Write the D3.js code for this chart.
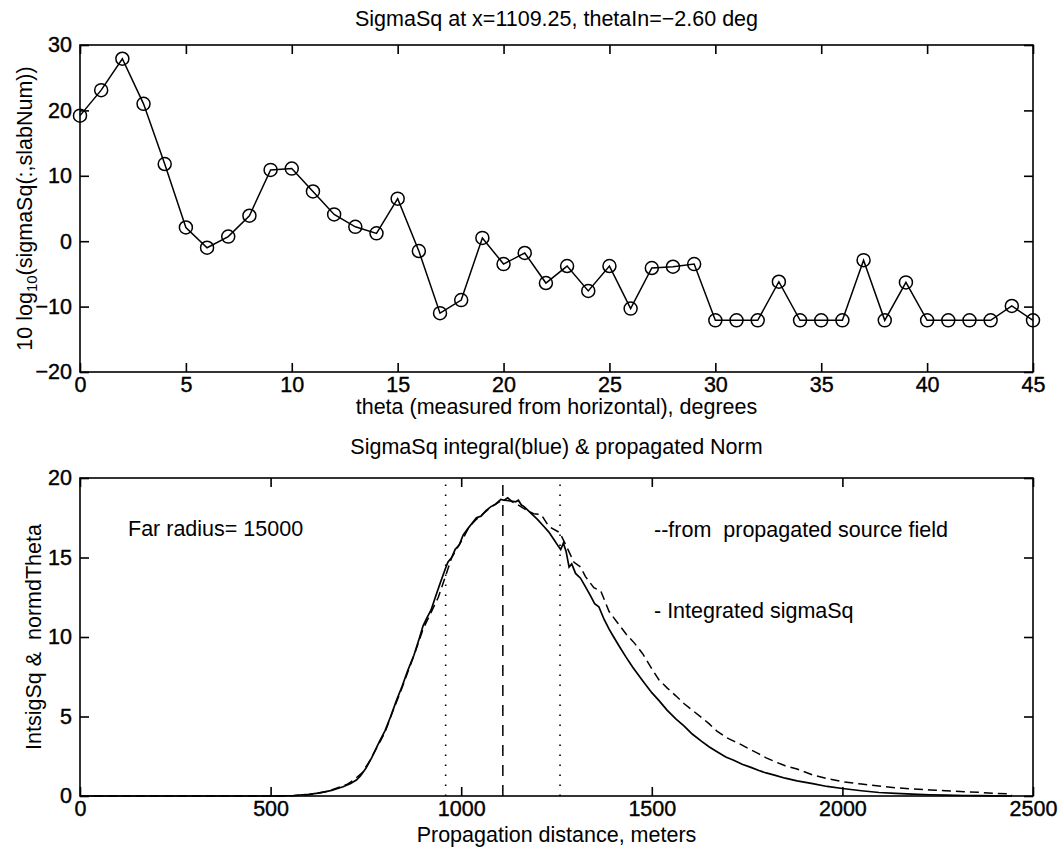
<!DOCTYPE html>
<html>
<head>
<meta charset="utf-8">
<script src="https://cdn.jsdelivr.net/npm/d3@7"></script>
<style>
  html, body { margin: 0; padding: 0; background: #fff; }
  svg { display: block; }
  text { font-family: "Liberation Sans", Arial, Helvetica, sans-serif; fill: #000; }
</style>
</head>
<body>
<svg id="chart" width="1060" height="850"></svg>
<script>
// ---------------- data ----------------
const thetaDeg = [0,1,2,3,4,5,6,7,8,9,10,11,12,13,14,15,16,17,18,19,20,21,22,23,24,25,26,27,28,29,30,31,32,33,34,35,36,37,38,39,40,41,42,43,44,45];
const sigmaSqDb = [19.2,23.1,27.9,21.0,11.8,2.1,-1.0,0.7,3.9,10.9,11.1,7.6,4.1,2.2,1.2,6.5,-1.5,-11.0,-9.0,0.5,-3.5,-1.8,-6.4,-3.8,-7.6,-3.8,-10.3,-4.1,-3.9,-3.5,-12.1,-12.1,-12.1,-6.2,-12.1,-12.1,-12.1,-2.9,-12.1,-6.3,-12.1,-12.1,-12.1,-12.1,-9.9,-12.1];
const topXTicks = [0,5,10,15,20,25,30,35,40,45];
const topYTicks = [-20,-10,0,10,20,30];

const distSolid = [0,100,200,300,400,450,500,530,560,600,630,660,690,710,725,735,750,765,785,800,815,830,845,860,876,890,900,910,921,935,945,957,965,975,984,995,1005,1017,1030,1040,1052,1065,1078,1090,1104,1113,1122,1132,1143,1150,1158,1165,1178,1191,1200,1217,1230,1244,1255,1261,1268,1275,1283,1290,1300,1313,1325,1339,1350,1361,1375,1388,1400,1415,1432,1450,1476,1500,1519,1540,1563,1585,1606,1630,1650,1670,1694,1715,1737,1760,1781,1800,1824,1850,1881,1922,1960,2000,2050,2096,2140,2183,2230,2270,2320,2357,2400,2445];
const intSigmaSq = [0,0,0,0,0,0,0,0.01,0.03,0.1,0.2,0.35,0.58,0.78,1.0,1.25,1.75,2.4,3.4,4.1,5.0,6.0,6.9,7.9,8.85,9.9,10.7,11.2,11.7,12.7,13.4,14.2,14.7,15.0,15.5,15.8,16.4,16.8,17.2,17.5,17.6,17.95,18.2,18.35,18.65,18.6,18.75,18.55,18.5,18.6,18.3,18.2,17.9,17.6,17.4,16.95,16.6,16.1,15.7,15.5,15.9,15.4,14.4,14.6,14.0,13.7,13.2,12.6,12.1,11.9,11.1,10.5,10.0,9.4,8.75,8.1,7.25,6.5,6.0,5.4,4.85,4.4,3.9,3.45,3.1,2.8,2.45,2.25,2.0,1.8,1.6,1.45,1.3,1.12,0.95,0.78,0.6,0.47,0.33,0.22,0.16,0.12,0.08,0.06,0.03,0.02,0.01,0];

const distDashed = [0,100,200,300,400,500,560,600,650,700,720,740,760,780,800,820,840,860,880,900,920,940,960,975,990,1005,1020,1040,1060,1080,1100,1115,1130,1150,1170,1190,1210,1230,1256,1262,1278,1296,1313,1326,1348,1366,1388,1410,1432,1455,1476,1500,1519,1540,1563,1585,1606,1630,1650,1670,1694,1715,1737,1760,1781,1800,1824,1850,1881,1922,1960,2000,2050,2096,2140,2183,2230,2270,2320,2357,2400,2436,2445];
const propNorm = [0,0,0,0,0,0,0.02,0.08,0.3,0.72,1.05,1.45,2.2,3.1,4.0,5.3,6.5,7.8,9.1,10.5,11.5,12.5,13.9,15.0,15.6,16.2,16.9,17.4,17.8,18.2,18.5,18.6,18.55,18.3,18.0,17.75,17.7,16.95,16.6,16.4,15.6,14.7,14.4,13.8,13.1,12.9,11.6,10.9,10.2,9.6,8.95,8.0,7.3,6.8,6.3,5.8,5.4,4.95,4.55,4.1,3.7,3.45,3.2,2.9,2.65,2.4,2.15,1.9,1.7,1.32,1.1,0.9,0.75,0.63,0.52,0.44,0.38,0.33,0.27,0.23,0.17,0.13,0.08];

const dottedMarks = [959.25, 1259.25];
const dashedMark = [1109.25];
const botXTicks = [0,500,1000,1500,2000,2500];
const botYTicks = [0,5,10,15,20];

const topTitle = "SigmaSq at x=1109.25, thetaIn=\u22122.60 deg";
const topXLabel = "theta (measured from horizontal), degrees";
const botTitle = "SigmaSq integral(blue) & propagated Norm";
const botXLabel = "Propagation distance, meters";
const botYLabel = "IntsigSq &  normdTheta";
const noteFar = "Far radius= 15000";
const noteDash = "--from  propagated source field";
const noteSolid = "- Integrated sigmaSq";

// ---------------- layout ----------------
const svg = d3.select("#chart");
const FS = 21.5, TFS = 21.5;
const L = 80, R = 1033;
const top1 = 45, bot1 = 372;
const top2 = 478, bot2 = 796;
const TICK = 9;
const fmt = d => (d < 0 ? "\u2212" + Math.abs(d) : String(d));

function frame(g, x, y, xt, yt, x0, x1, y0, y1) {
  g.append("rect").attr("x", x0).attr("y", y0).attr("width", x1 - x0).attr("height", y1 - y0)
    .attr("fill", "none").attr("stroke", "#000").attr("stroke-width", 1.6);
  const ax = d3.axisBottom(x).tickValues(xt).tickSize(-TICK).tickPadding(5).tickFormat(fmt);
  const gx = g.append("g").attr("transform", `translate(0,${y1})`).call(ax);
  const axT = d3.axisTop(x).tickValues(xt).tickSize(-TICK).tickFormat("");
  const gxt = g.append("g").attr("transform", `translate(0,${y0})`).call(axT);
  const ay = d3.axisLeft(y).tickValues(yt).tickSize(-TICK).tickPadding(8).tickFormat(fmt);
  const gy = g.append("g").attr("transform", `translate(${x0},0)`).call(ay);
  const ayR = d3.axisRight(y).tickValues(yt).tickSize(-TICK).tickFormat("");
  const gyr = g.append("g").attr("transform", `translate(${x1},0)`).call(ayR);
  [gx, gxt, gy, gyr].forEach(a => {
    a.select(".domain").remove();
    a.selectAll(".tick line").attr("stroke", "#000").attr("stroke-width", 1.6);
    a.selectAll("text").attr("font-size", FS).attr("fill", "#000")
      .attr("stroke", "#000").attr("stroke-width", 0.4)
      .style("font-family", '"Liberation Sans", Arial, Helvetica, sans-serif');
  });
}

// ---------------- top plot ----------------
const x1s = d3.scaleLinear().domain([0, 45]).range([L, R]);
const y1s = d3.scaleLinear().domain([-20, 30]).range([bot1, top1]);
const g1 = svg.append("g");
frame(g1, x1s, y1s, topXTicks, topYTicks, L, R, top1, bot1);

const topData = thetaDeg.map((t, i) => [t, sigmaSqDb[i]]);
g1.append("path").datum(topData)
  .attr("d", d3.line().x(d => x1s(d[0])).y(d => y1s(d[1])))
  .attr("fill", "none").attr("stroke", "#000").attr("stroke-width", 1.5);
g1.selectAll("circle.m").data(topData).join("circle")
  .attr("class", "m")
  .attr("cx", d => x1s(d[0])).attr("cy", d => y1s(d[1])).attr("r", 6.5)
  .attr("fill", "none").attr("stroke", "#000").attr("stroke-width", 1.5);

g1.append("text").attr("x", (L + R) / 2).attr("y", 26).attr("text-anchor", "middle")
  .attr("font-size", TFS).text(topTitle);
g1.append("text").attr("x", (L + R) / 2).attr("y", 414).attr("text-anchor", "middle")
  .attr("font-size", TFS).text(topXLabel);
const yl1 = g1.append("text").attr("transform", `translate(32,${(top1 + bot1) / 2}) rotate(-90)`)
  .attr("text-anchor", "middle").attr("font-size", TFS);
yl1.append("tspan").text("10 log");
yl1.append("tspan").attr("font-size", 15).attr("dy", 5).text("10");
yl1.append("tspan").attr("dy", -5).text("(sigmaSq(:,slabNum))");

// ---------------- bottom plot ----------------
const x2s = d3.scaleLinear().domain([0, 2500]).range([L, R]);
const y2s = d3.scaleLinear().domain([0, 20]).range([bot2, top2]);
const g2 = svg.append("g");

g2.selectAll("line.dot").data(dottedMarks).join("line").attr("class", "dot")
  .attr("x1", d => x2s(d)).attr("x2", d => x2s(d)).attr("y1", y2s(0)).attr("y2", y2s(20))
  .attr("stroke", "#000").attr("stroke-width", 1.6).attr("stroke-dasharray", "1.6,8.4");
g2.selectAll("line.dash").data(dashedMark).join("line").attr("class", "dash")
  .attr("x1", d => x2s(d)).attr("x2", d => x2s(d)).attr("y1", y2s(0)).attr("y2", y2s(20))
  .attr("stroke", "#000").attr("stroke-width", 1.5).attr("stroke-dasharray", "11,9");

const line2 = d3.line().x(d => x2s(d[0])).y(d => y2s(d[1]));
g2.append("path").datum(distDashed.map((d, i) => [d, propNorm[i]]))
  .attr("d", line2).attr("fill", "none").attr("stroke", "#000")
  .attr("stroke-width", 1.5).attr("stroke-dasharray", "9,5");
g2.append("path").datum(distSolid.map((d, i) => [d, intSigmaSq[i]]))
  .attr("d", line2).attr("fill", "none").attr("stroke", "#000").attr("stroke-width", 1.7);

frame(g2, x2s, y2s, botXTicks, botYTicks, L, R, top2, bot2);

g2.append("text").attr("x", (L + R) / 2).attr("y", 454).attr("text-anchor", "middle")
  .attr("font-size", TFS).text(botTitle);
g2.append("text").attr("x", (L + R) / 2).attr("y", 842).attr("text-anchor", "middle")
  .attr("font-size", TFS).text(botXLabel);
g2.append("text").attr("transform", `translate(41,${(top2 + bot2) / 2}) rotate(-90)`)
  .attr("text-anchor", "middle").attr("font-size", TFS)
  .style("white-space", "pre").text(botYLabel);

g2.append("text").attr("x", 128).attr("y", 536).attr("font-size", TFS).text(noteFar);
g2.append("text").attr("x", 654).attr("y", 537).attr("font-size", TFS)
  .style("white-space", "pre").text(noteDash);
g2.append("text").attr("x", 654).attr("y", 618).attr("font-size", TFS)
  .style("white-space", "pre").text(noteSolid);
</script>
</body>
</html>
